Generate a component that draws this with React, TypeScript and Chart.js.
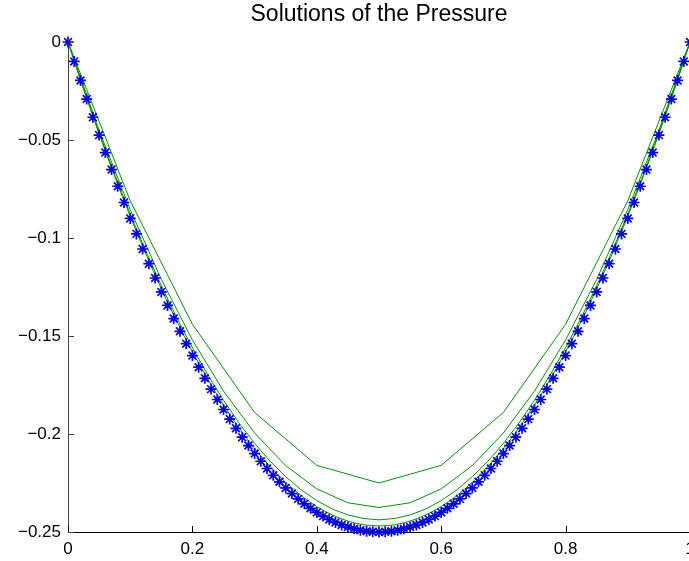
import React, { useEffect, useRef } from "react";
import { Chart, registerables } from "chart.js";

Chart.register(...registerables);

const TITLE = "Solutions of the Pressure";

// fine grid (blue stars): exact pressure
const X101 = [0, 0.01, 0.02, 0.03, 0.04, 0.05, 0.06, 0.07, 0.08, 0.09, 0.1, 0.11, 0.12, 0.13, 0.14, 0.15, 0.16, 0.17, 0.18, 0.19, 0.2, 0.21, 0.22, 0.23, 0.24, 0.25, 0.26, 0.27, 0.28, 0.29, 0.3, 0.31, 0.32, 0.33, 0.34, 0.35, 0.36, 0.37, 0.38, 0.39, 0.4, 0.41, 0.42, 0.43, 0.44, 0.45, 0.46, 0.47, 0.48, 0.49, 0.5, 0.51, 0.52, 0.53, 0.54, 0.55, 0.56, 0.57, 0.58, 0.59, 0.6, 0.61, 0.62, 0.63, 0.64, 0.65, 0.66, 0.67, 0.68, 0.69, 0.7, 0.71, 0.72, 0.73, 0.74, 0.75, 0.76, 0.77, 0.78, 0.79, 0.8, 0.81, 0.82, 0.83, 0.84, 0.85, 0.86, 0.87, 0.88, 0.89, 0.9, 0.91, 0.92, 0.93, 0.94, 0.95, 0.96, 0.97, 0.98, 0.99, 1];
const EXACT = [0, -0.0099, -0.0196, -0.0291, -0.0384, -0.0475, -0.0564, -0.0651, -0.0736, -0.0819, -0.09, -0.0979, -0.1056, -0.1131, -0.1204, -0.1275, -0.1344, -0.1411, -0.1476, -0.1539, -0.16, -0.1659, -0.1716, -0.1771, -0.1824, -0.1875, -0.1924, -0.1971, -0.2016, -0.2059, -0.21, -0.2139, -0.2176, -0.2211, -0.2244, -0.2275, -0.2304, -0.2331, -0.2356, -0.2379, -0.24, -0.2419, -0.2436, -0.2451, -0.2464, -0.2475, -0.2484, -0.2491, -0.2496, -0.2499, -0.25, -0.2499, -0.2496, -0.2491, -0.2484, -0.2475, -0.2464, -0.2451, -0.2436, -0.2419, -0.24, -0.2379, -0.2356, -0.2331, -0.2304, -0.2275, -0.2244, -0.2211, -0.2176, -0.2139, -0.21, -0.2059, -0.2016, -0.1971, -0.1924, -0.1875, -0.1824, -0.1771, -0.1716, -0.1659, -0.16, -0.1539, -0.1476, -0.1411, -0.1344, -0.1275, -0.1204, -0.1131, -0.1056, -0.0979, -0.09, -0.0819, -0.0736, -0.0651, -0.0564, -0.0475, -0.0384, -0.0291, -0.0196, -0.0099, 0];

// coarse approximations (green lines)
const X11 = [0, 0.1, 0.2, 0.3, 0.4, 0.5, 0.6, 0.7, 0.8, 0.9, 1];
const P11 = [0, -0.081, -0.144, -0.189, -0.216, -0.225, -0.216, -0.189, -0.144, -0.081, 0];

const X21 = [0, 0.05, 0.1, 0.15, 0.2, 0.25, 0.3, 0.35, 0.4, 0.45, 0.5, 0.55, 0.6, 0.65, 0.7, 0.75, 0.8, 0.85, 0.9, 0.95, 1];
const P21 = [0, -0.0451, -0.0855, -0.1211, -0.152, -0.1781, -0.1995, -0.2161, -0.228, -0.2351, -0.2375, -0.2351, -0.228, -0.2161, -0.1995, -0.1781, -0.152, -0.1211, -0.0855, -0.0451, 0];

const X41 = [0, 0.025, 0.05, 0.075, 0.1, 0.125, 0.15, 0.175, 0.2, 0.225, 0.25, 0.275, 0.3, 0.325, 0.35, 0.375, 0.4, 0.425, 0.45, 0.475, 0.5, 0.525, 0.55, 0.575, 0.6, 0.625, 0.65, 0.675, 0.7, 0.725, 0.75, 0.775, 0.8, 0.825, 0.85, 0.875, 0.9, 0.925, 0.95, 0.975, 1];
const P41 = [0, -0.0238, -0.0463, -0.0676, -0.0878, -0.1066, -0.1243, -0.1408, -0.156, -0.17, -0.1828, -0.1944, -0.2048, -0.2139, -0.2218, -0.2285, -0.234, -0.2383, -0.2413, -0.2431, -0.2438, -0.2431, -0.2413, -0.2383, -0.234, -0.2285, -0.2218, -0.2139, -0.2048, -0.1944, -0.1828, -0.17, -0.156, -0.1408, -0.1243, -0.1066, -0.0878, -0.0676, -0.0463, -0.0238, 0];

const X81 = [0, 0.0125, 0.025, 0.0375, 0.05, 0.0625, 0.075, 0.0875, 0.1, 0.1125, 0.125, 0.1375, 0.15, 0.1625, 0.175, 0.1875, 0.2, 0.2125, 0.225, 0.2375, 0.25, 0.2625, 0.275, 0.2875, 0.3, 0.3125, 0.325, 0.3375, 0.35, 0.3625, 0.375, 0.3875, 0.4, 0.4125, 0.425, 0.4375, 0.45, 0.4625, 0.475, 0.4875, 0.5, 0.5125, 0.525, 0.5375, 0.55, 0.5625, 0.575, 0.5875, 0.6, 0.6125, 0.625, 0.6375, 0.65, 0.6625, 0.675, 0.6875, 0.7, 0.7125, 0.725, 0.7375, 0.75, 0.7625, 0.775, 0.7875, 0.8, 0.8125, 0.825, 0.8375, 0.85, 0.8625, 0.875, 0.8875, 0.9, 0.9125, 0.925, 0.9375, 0.95, 0.9625, 0.975, 0.9875, 1];
const P81 = [0, -0.0122, -0.0241, -0.0356, -0.0469, -0.0579, -0.0685, -0.0789, -0.0889, -0.0986, -0.108, -0.1171, -0.1259, -0.1344, -0.1426, -0.1504, -0.158, -0.1653, -0.1722, -0.1788, -0.1852, -0.1912, -0.1969, -0.2023, -0.2074, -0.2122, -0.2166, -0.2208, -0.2247, -0.2282, -0.2315, -0.2344, -0.237, -0.2393, -0.2413, -0.243, -0.2444, -0.2455, -0.2463, -0.2467, -0.2469, -0.2467, -0.2463, -0.2455, -0.2444, -0.243, -0.2413, -0.2393, -0.237, -0.2344, -0.2315, -0.2282, -0.2247, -0.2208, -0.2166, -0.2122, -0.2074, -0.2023, -0.1969, -0.1912, -0.1852, -0.1788, -0.1722, -0.1653, -0.158, -0.1504, -0.1426, -0.1344, -0.1259, -0.1171, -0.108, -0.0986, -0.0889, -0.0789, -0.0685, -0.0579, -0.0469, -0.0356, -0.0241, -0.0122, 0];

const X_MIN = 0;
const X_MAX = 1;
const X_STEP = 0.2;
const Y_MIN = -0.25;
const Y_MAX = 0;
const Y_STEP = 0.05;

const FONT = "'Liberation Sans', Arial, Helvetica, sans-serif";
const GREEN = "#108a10";
const BLUE = "#0505d8";

const pts = (xs: number[], ys: number[]) => xs.map((x, i) => ({ x, y: ys[i] }));

const fmt = (v: number) => {
  const r = Math.round(v * 1000) / 1000;
  if (r === 0) return "0";
  const s = String(Math.abs(r));
  return r < 0 ? "\u2212" + s : s;
};

const inwardTicks = {
  id: "inwardTicks",
  afterDatasetsDraw(chart: any) {
    const { ctx, chartArea } = chart;
    const xs = chart.scales.x;
    const ys = chart.scales.y;
    ctx.save();
    ctx.lineWidth = 1;
    ctx.strokeStyle = "#000";
    ctx.beginPath();
    xs.ticks.forEach((t: any) => {
      const px = Math.round(xs.getPixelForValue(t.value)) + 0.5;
      ctx.moveTo(px, chartArea.bottom);
      ctx.lineTo(px, chartArea.bottom - 6);
    });
    ctx.stroke();
    ctx.strokeStyle = "#444";
    ctx.beginPath();
    ys.ticks.forEach((t: any) => {
      const py = Math.round(ys.getPixelForValue(t.value)) + 0.5;
      ctx.moveTo(chartArea.left, py);
      ctx.lineTo(chartArea.left + 6, py);
    });
    ctx.stroke();
    ctx.restore();
  },
};

export default function App() {
  const ref = useRef<HTMLCanvasElement | null>(null);

  useEffect(() => {
    if (!ref.current) return;
    const greenLine = (label: string, data: any[]) => ({
      label,
      data,
      borderColor: GREEN,
      backgroundColor: GREEN,
      borderWidth: 1,
      pointRadius: 0,
      tension: 0,
      fill: false,
      order: 2,
    });
    const chart = new Chart(ref.current, {
      type: "line",
      data: {
        datasets: [
          {
            label: "exact",
            data: pts(X101, EXACT),
            showLine: false,
            pointStyle: "star",
            pointRadius: 5.5,
            pointBorderWidth: 1.7,
            pointBorderColor: BLUE,
            pointBackgroundColor: BLUE,
            borderColor: BLUE,
            clip: false,
            order: 1,
          } as any,
          greenLine("h=0.1", pts(X11, P11)),
          greenLine("h=0.05", pts(X21, P21)),
          greenLine("h=0.025", pts(X41, P41)),
          greenLine("h=0.0125", pts(X81, P81)),
        ],
      },
      options: {
        animation: false,
        responsive: false,
        events: [],
        layout: { padding: { left: 0, right: 30, top: 0, bottom: 0 } },
        plugins: {
          legend: { display: false },
          tooltip: { enabled: false },
          title: {
            display: true,
            text: TITLE,
            fullSize: false,
            color: "#000",
            font: { family: FONT, size: 23, weight: "normal" },
            padding: { top: 1, bottom: 13.4 },
          },
        },
        scales: {
          x: {
            type: "linear",
            min: X_MIN,
            max: X_MAX,
            grid: { display: false, drawTicks: false },
            border: { display: true, color: "#000", width: 1 },
            afterFit: (s: any) => {
              s.height = 29;
            },
            ticks: {
              stepSize: X_STEP,
              padding: 7,
              maxRotation: 0,
              autoSkip: false,
              color: "#000",
              font: { family: FONT, size: 17 },
              callback: (v: any) => fmt(Number(v)),
            },
          },
          y: {
            type: "linear",
            min: Y_MIN,
            max: Y_MAX,
            grid: { display: false, drawTicks: false },
            border: { display: true, color: "#444", width: 1 },
            afterFit: (s: any) => {
              s.width = 68;
            },
            ticks: {
              stepSize: Y_STEP,
              padding: 7,
              autoSkip: false,
              color: "#000",
              font: { family: FONT, size: 17 },
              callback: (v: any) => fmt(Number(v)),
            },
          },
        },
      },
      plugins: [inwardTicks],
    });
    return () => chart.destroy();
  }, []);

  return (
    <div
      style={{
        position: "absolute",
        left: 0,
        top: 0,
        width: 689,
        height: 561,
        overflow: "hidden",
        background: "#fff",
      }}
    >
      <canvas ref={ref} width={720} height={561} style={{ display: "block" }} />
    </div>
  );
}
